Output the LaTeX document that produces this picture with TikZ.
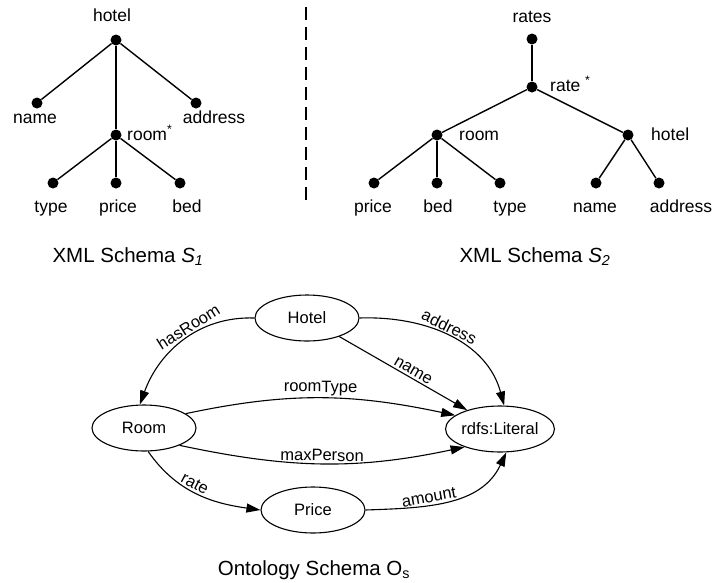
\documentclass[tikz,border=0pt]{standalone}
\usepackage{fontspec}
\setmainfont{Liberation Sans}
\usetikzlibrary{arrows.meta,shapes.geometric}
\begin{document}
\begin{tikzpicture}[x=1pt,y=1pt,
  dot/.style={circle,fill=black,inner sep=0pt,minimum size=11pt},
  tlabel/.style={inner sep=0pt,font=\fontsize{17.5}{20}\selectfont},
  tedge/.style={line width=1.4pt},
  caption/.style={inner sep=0pt,font=\fontsize{20.5}{24}\selectfont},
  cls/.style={ellipse,draw,line width=1.1pt,minimum width=104pt,minimum height=46pt,inner sep=0pt,font=\fontsize{16.5}{19}\selectfont},
  prop/.style={line width=1.1pt,-{Triangle[length=14pt,width=9pt]}},
  plabel/.style={sloped,above,inner sep=2pt,font=\fontsize{16.5}{19}\selectfont}
]
\useasboundingbox (0,0) rectangle (716,-582);

% ---------- XML schema S1 ----------
\node[dot] (h1)      at (116,-40)  {};
\node[dot] (h1name)  at (37,-103)  {};
\node[dot] (h1addr)  at (196,-103) {};
\node[dot] (r1)      at (116,-135) {};
\node[dot] (r1type)  at (53,-183)  {};
\node[dot] (r1price) at (116,-183) {};
\node[dot] (r1bed)   at (180,-183) {};
\draw[tedge] (h1) -- (h1name);
\draw[tedge] (h1) -- (h1addr);
\draw[tedge] (h1) -- (r1);
\draw[tedge] (r1) -- (r1type);
\draw[tedge] (r1) -- (r1price);
\draw[tedge] (r1) -- (r1bed);
\node[tlabel,anchor=base] (l-h1)      at (112,-21)  {hotel};
\node[tlabel,anchor=base] (l-h1name)  at (35,-123)  {name};
\node[tlabel,anchor=base] (l-h1addr)  at (214,-123) {address};
\node[tlabel,anchor=base west] (l-r1) at (127,-140) {room\textsuperscript{*}};
\node[tlabel,anchor=base] (l-r1type)  at (51,-212)  {type};
\node[tlabel,anchor=base] (l-r1price) at (118,-212) {price};
\node[tlabel,anchor=base] (l-r1bed)   at (187,-212) {bed};
\node[caption,anchor=base] (cap1) at (128,-262) {XML Schema \textit{S}\textsubscript{\textit{1}}};

% ---------- separator ----------
\coordinate (sepTop) at (306,-7);
\coordinate (sepBot) at (306,-200);
\draw[line width=1.3pt,dash pattern=on 13pt off 7pt] (sepTop) -- (sepBot);

% ---------- XML schema S2 ----------
\node[dot] (rates)  at (532,-39)  {};
\node[dot] (rate)   at (532,-87)  {};
\node[dot] (room2)  at (437,-135) {};
\node[dot] (hotel2) at (628,-135) {};
\node[dot] (price2) at (374,-183) {};
\node[dot] (bed2)   at (437,-183) {};
\node[dot] (type2)  at (500,-183) {};
\node[dot] (name2)  at (596,-183) {};
\node[dot] (addr2)  at (659,-183) {};
\draw[tedge] (rates) -- (rate);
\draw[tedge] (rate) -- (room2);
\draw[tedge] (rate) -- (hotel2);
\draw[tedge] (room2) -- (price2);
\draw[tedge] (room2) -- (bed2);
\draw[tedge] (room2) -- (type2);
\draw[tedge] (hotel2) -- (name2);
\draw[tedge] (hotel2) -- (addr2);
\node[tlabel,anchor=base] (l-rates) at (532,-22) {rates};
\node[tlabel,anchor=base west] (l-rate) at (550,-91) {rate \textsuperscript{*}};
\node[tlabel,anchor=base west] (l-room2) at (459,-140) {room};
\node[tlabel,anchor=base west] (l-hotel2) at (651,-140) {hotel};
\node[tlabel,anchor=base] (l-price2) at (373,-212) {price};
\node[tlabel,anchor=base] (l-bed2)   at (438,-212) {bed};
\node[tlabel,anchor=base] (l-type2)  at (510,-212) {type};
\node[tlabel,anchor=base] (l-name2)  at (595,-212) {name};
\node[tlabel,anchor=base] (l-addr2)  at (681,-212) {address};
\node[caption,anchor=base] (cap2) at (535,-262) {XML Schema \textit{S}\textsubscript{\textit{2}}};

% ---------- ontology schema ----------
\node[cls] (Hotel) at (307,-318) {Hotel};
\node[cls] (Room)  at (144,-428) {Room};
\node[cls] (Lit)   at (500,-429) {rdfs:Literal};
\node[cls] (Price) at (313,-510) {Price};

\draw[prop] (Hotel.west) to[out=178,in=70] node[plabel,pos=0.42] {hasRoom} (Room.100);
\draw[prop] (Hotel.east) to[out=2,in=105] node[plabel,pos=0.47] {address} (Lit.80);
\draw[prop] (Hotel) -- node[plabel,pos=0.55] {name} (Lit);
\draw[prop] (Room.19) to[out=12,in=168] node[plabel] {roomType} (Lit.163);
\draw[prop] (Room.-26) to[out=-12,in=-168] node[plabel] {maxPerson} (Lit.-153);
\draw[prop] (Room.-80) to[out=-55,in=172] node[plabel,pos=0.45] {rate} (Price.west);
\draw[prop] (Price.east) to[out=2,in=-115] node[plabel,pos=0.38] {amount} (Lit.-75);

\node[caption,anchor=base] (cap3) at (314,-575) {Ontology Schema O\textsubscript{s}};
\end{tikzpicture}
\end{document}
